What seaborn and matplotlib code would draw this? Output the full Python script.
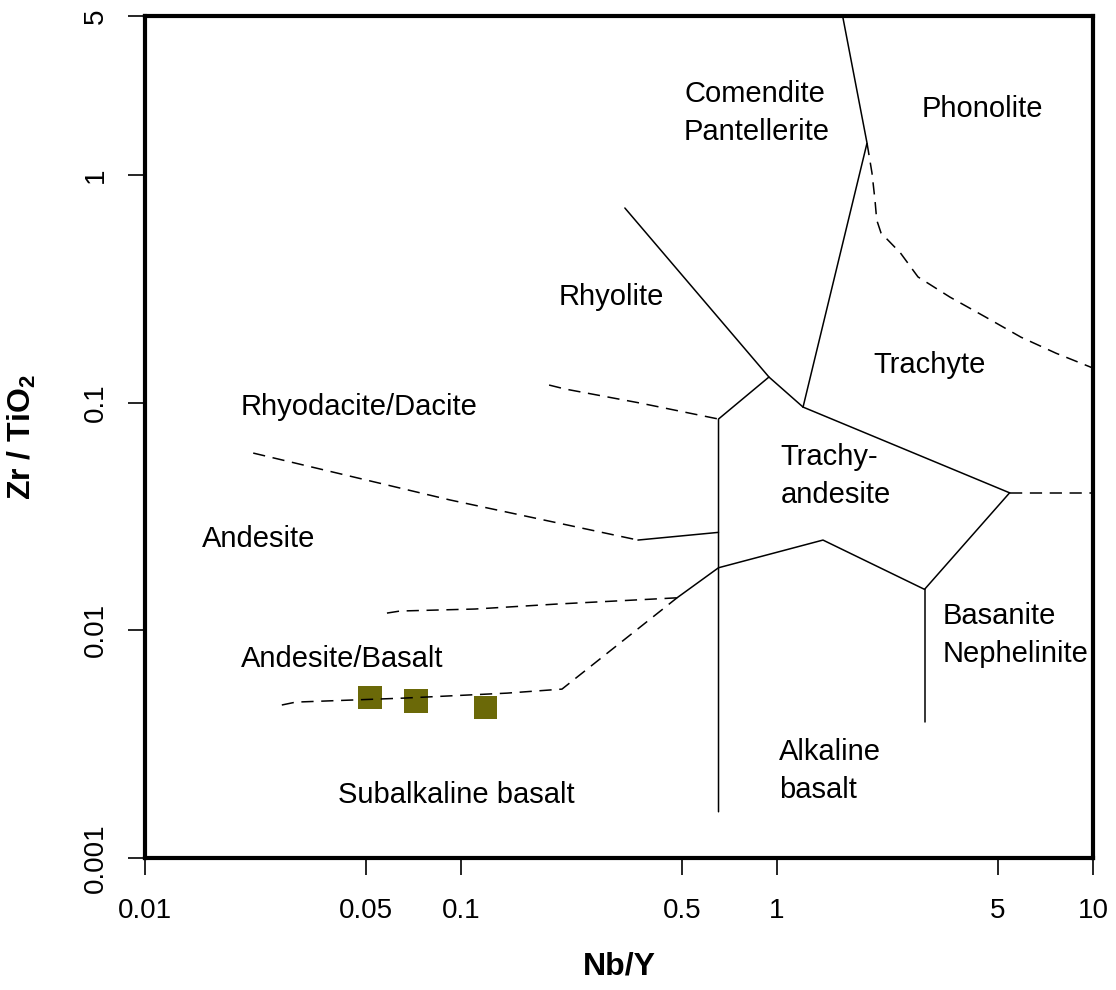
import matplotlib
matplotlib.use("Agg")
import matplotlib.pyplot as plt
import pandas as pd
import seaborn as sns

# sample points (Nb/Y, Zr/TiO2)
sample_nby = [0.0515, 0.0720, 0.1197]
sample_zrti = [0.00508, 0.00488, 0.00459]

# solid field boundaries
rhy_com_x = [0.330, 0.943, 1.209]
rhy_com_y = [0.717, 0.1297, 0.0957]
com_pho_x = [1.209, 1.927, 1.613]
com_pho_y = [0.0957, 1.383, 5.0]
tra_ta_x = [1.209, 5.446]
tra_ta_y = [0.0957, 0.0402]
sub_alk_x = [0.943, 0.653, 0.653]
sub_alk_y = [0.1297, 0.0848, 0.001596]
ta_alk_x = [0.4826, 0.653, 1.398, 2.930, 5.446]
ta_alk_y = [0.01390, 0.01884, 0.02493, 0.01514, 0.0402]
alk_bas_x = [2.930, 2.930]
alk_bas_y = [0.01514, 0.003967]
and_ta_x = [0.363, 0.653]
and_ta_y = [0.02493, 0.02695]

# dashed field boundaries
pho_tra_x = [1.927, 1.998, 2.042, 2.068, 2.134, 2.458, 2.794, 3.528, 4.57, 5.92, 7.64, 10.0]
pho_tra_y = [1.383, 1.021, 0.777, 0.635, 0.557, 0.455, 0.357, 0.291, 0.238, 0.194, 0.165, 0.142]
pho_bas_x = [5.446, 10.0]
pho_bas_y = [0.0402, 0.0402]
rhy_dac_x = [0.190, 0.2134, 0.3685, 0.653]
rhy_dac_y = [0.1196, 0.1149, 0.0997, 0.0848]
dac_and_x = [0.0220, 0.0923, 0.363]
dac_and_y = [0.0601, 0.0374, 0.02493]
and_ab_x = [0.0583, 0.0641, 0.1107, 0.2012, 0.4826]
and_ab_y = [0.01191, 0.01216, 0.01241, 0.01305, 0.01390]
ab_sub_x = [0.0271, 0.0300, 0.0660, 0.1398, 0.2087, 0.4826]
ab_sub_y = [0.00470, 0.00484, 0.00504, 0.00530, 0.00552, 0.01390]

# field names, anchored at the baseline of their last line
field_names = ["Comendite\nPantellerite", "Phonolite", "Rhyolite", "Trachyte",
               "Rhyodacite/Dacite", "Trachy-\nandesite", "Andesite",
               "Andesite/Basalt", "Subalkaline basalt", "Basanite\nNephelinite",
               "Alkaline\nbasalt"]
field_x = [0.508, 2.87, 0.203, 2.024, 0.0201, 1.024, 0.01515, 0.0201, 0.0407, 3.336, 1.015]
field_y = [1.426, 1.80, 0.269, 0.135, 0.0883, 0.03636, 0.0232, 0.0069, 0.00174, 0.00726, 0.001833]

x_ticks = [0.01, 0.05, 0.1, 0.5, 1, 5, 10]
x_ticklabels = ["0.01", "0.05", "0.1", "0.5", "1", "5", "10"]
y_ticks = [0.001, 0.01, 0.1, 1, 5]
y_ticklabels = ["0.001", "0.01", "0.1", "1", "5"]

sns.set_theme(style="white")
plt.rcParams["font.family"] = ["Liberation Sans", "DejaVu Sans"]
plt.rcParams["mathtext.fontset"] = "custom"
plt.rcParams["mathtext.rm"] = "Liberation Sans"
plt.rcParams["mathtext.bf"] = "Liberation Sans:bold"
plt.rcParams["text.color"] = "black"
plt.rcParams["axes.labelcolor"] = "black"

segments = [
    ("rhy_com", "solid", rhy_com_x, rhy_com_y),
    ("com_pho", "solid", com_pho_x, com_pho_y),
    ("tra_ta", "solid", tra_ta_x, tra_ta_y),
    ("sub_alk", "solid", sub_alk_x, sub_alk_y),
    ("ta_alk", "solid", ta_alk_x, ta_alk_y),
    ("alk_bas", "solid", alk_bas_x, alk_bas_y),
    ("and_ta", "solid", and_ta_x, and_ta_y),
    ("pho_tra", "dashed", pho_tra_x, pho_tra_y),
    ("pho_bas", "dashed", pho_bas_x, pho_bas_y),
    ("rhy_dac", "dashed", rhy_dac_x, rhy_dac_y),
    ("dac_and", "dashed", dac_and_x, dac_and_y),
    ("and_ab", "dashed", and_ab_x, and_ab_y),
    ("ab_sub", "dashed", ab_sub_x, ab_sub_y),
]
rows = []
for name, kind, xs, ys in segments:
    for i, (x, y) in enumerate(zip(xs, ys)):
        rows.append((name, kind, i, x, y))
lines = pd.DataFrame(rows, columns=["boundary", "kind", "order", "nby", "zrti"])

fig = plt.figure(figsize=(11.16, 9.9), dpi=100)
ax = fig.add_axes([145 / 1116, 132 / 990, 948 / 1116, 842 / 990])
ax.set_xscale("log")
ax.set_yscale("log")

sns.scatterplot(x=sample_nby, y=sample_zrti, marker="s", s=17 ** 2,
                color="#6b6908", edgecolor="none", linewidth=0,
                zorder=1, ax=ax, legend=False)

sns.lineplot(data=lines, x="nby", y="zrti", units="boundary", style="kind",
             estimator=None, sort=False, color="black", linewidth=1.1,
             dashes={"solid": "", "dashed": (8, 5)}, legend=False,
             zorder=2, ax=ax)

for name, x, y in zip(field_names, field_x, field_y):
    ax.text(x, y, name, ha="left", va="baseline", fontsize=21,
            color="black", linespacing=1.45)

ax.set_xlim(0.01, 10)
ax.set_ylim(0.001, 5)
ax.set_xticks(x_ticks)
ax.set_xticklabels(x_ticklabels)
ax.set_yticks(y_ticks)
ax.set_yticklabels(y_ticklabels, rotation=90, va="center")
ax.minorticks_off()

for side in ["left", "bottom", "top", "right"]:
    ax.spines[side].set_visible(True)
    ax.spines[side].set_linewidth(3)
    ax.spines[side].set_color("black")

ax.tick_params(axis="both", which="major", direction="out", length=12,
               width=1.2, color="black", labelsize=20, labelcolor="black",
               left=True, bottom=True, top=False, right=False)
ax.tick_params(axis="x", pad=17)
ax.tick_params(axis="y", pad=14)

ax.set_xlabel("Nb/Y", fontsize=23, fontweight="bold")
ax.set_ylabel(r"Zr / TiO$_\mathbf{2}$", fontsize=23, fontweight="bold")
ax.xaxis.set_label_coords(0.5, -0.1105)
ax.yaxis.set_label_coords(-0.113, 0.5)

fig.savefig("out.png", dpi=100)
